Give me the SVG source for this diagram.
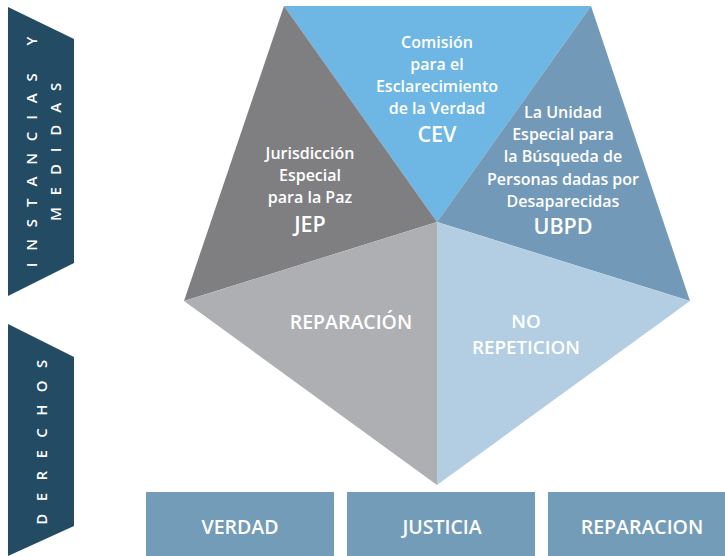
<svg xmlns="http://www.w3.org/2000/svg" width="725" height="556" viewBox="0 0 725 556">
<style>
  .t { font-family: "Open Sans", "Liberation Sans", sans-serif; font-weight: 600; fill: #FFFFFF; text-anchor: middle; }
  .s { font-size: 16px; }
  .b { font-size: 21.5px; }
  .m { font-size: 19.5px; }
  .n { font-size: 18.8px; }
  .v { font-family: "Open Sans", "Liberation Sans", sans-serif; font-weight: 600; fill: #FFFFFF; font-size: 15px; letter-spacing: 11.9px; text-anchor: middle; }
  .banner { fill: #234B63; }
  .box { fill: #739CB9; }
</style>
<g id="banner-instancias">
  <polygon class="banner" points="8,7 74,39 74,263 8,296"/>
  <text class="v" transform="translate(37,146) rotate(-90)">INSTANCIAS Y</text>
  <text class="v" transform="translate(61,146) rotate(-90)">MEDIDAS</text>
</g>
<g id="banner-derechos">
  <polygon class="banner" points="8,324 74,357 74,526 8,556"/>
  <text class="v" style="letter-spacing:12.4px" transform="translate(47,436) rotate(-90)">DERECHOS</text>
</g>
<g id="node-cev">
  <polygon fill="#6EB6E3" points="284,6 591,6 437,222"/>
  <text class="t s" x="437" y="48">Comisión</text>
  <text class="t s" x="437" y="70">para el</text>
  <text class="t s" x="437" y="92">Esclarecimiento</text>
  <text class="t s" x="437" y="114">de la Verdad</text>
  <text class="t b" x="437" y="142">CEV</text>
</g>
<g id="node-jep">
  <polygon fill="#7F7F82" points="284,6 437,222 184,301"/>
  <text class="t s" x="310" y="159">Jurisdicción</text>
  <text class="t s" x="310" y="181">Especial</text>
  <text class="t s" x="310" y="203">para la Paz</text>
  <text class="t b" x="310" y="232">JEP</text>
</g>
<g id="node-ubpd">
  <polygon fill="#7399B8" points="591,6 690,301 437,222"/>
  <text class="t s" x="563" y="118">La Unidad</text>
  <text class="t s" x="563" y="140">Especial para</text>
  <text class="t s" x="563" y="162">la Búsqueda de</text>
  <text class="t s" x="563" y="185">Personas dadas por</text>
  <text class="t s" x="563" y="207">Desaparecidas</text>
  <text class="t b" x="563" y="234">UBPD</text>
</g>
<g id="node-reparacion">
  <polygon fill="#AEAFB3" points="184,301 437,222 437,485"/>
  <text class="t m" x="351" y="329">REPARACIÓN</text>
</g>
<g id="node-no-repeticion">
  <polygon fill="#B3CEE2" points="437,222 690,301 437,485"/>
  <text class="t n" x="526" y="328">NO</text>
  <text class="t n" x="526" y="354">REPETICION</text>
</g>
<g id="box-verdad">
  <rect class="box" x="146" y="492" width="188" height="64"/>
  <text class="t m" x="240" y="534">VERDAD</text>
</g>
<g id="box-justicia">
  <rect class="box" x="347" y="492" width="188" height="64"/>
  <text class="t m" x="442" y="534">JUSTICIA</text>
</g>
<g id="box-reparacion">
  <rect class="box" x="548" y="492" width="177" height="64"/>
  <text class="t m" x="642" y="534">REPARACION</text>
</g>
<g id="connectors"/>
</svg>
